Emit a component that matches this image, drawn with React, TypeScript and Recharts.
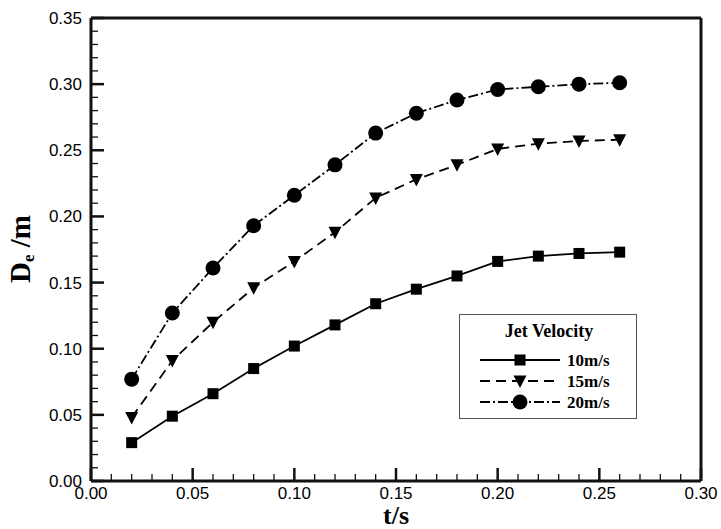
import React from "react";
import { LineChart, Line, XAxis, YAxis, ReferenceLine } from "recharts";

const times = [0.02, 0.04, 0.06, 0.08, 0.1, 0.12, 0.14, 0.16, 0.18, 0.2, 0.22, 0.24, 0.26];
const v10 = [0.029, 0.049, 0.066, 0.085, 0.102, 0.118, 0.134, 0.145, 0.155, 0.166, 0.17, 0.172, 0.173];
const v15 = [0.048, 0.091, 0.12, 0.146, 0.166, 0.188, 0.214, 0.228, 0.239, 0.251, 0.255, 0.257, 0.258];
const v20 = [0.077, 0.127, 0.161, 0.193, 0.216, 0.239, 0.263, 0.278, 0.288, 0.296, 0.298, 0.3, 0.301];

const seriesNames = ["10m/s", "15m/s", "20m/s"];
const legendTitle = "Jet Velocity";

const xMajorTicks = [0, 0.05, 0.1, 0.15, 0.2, 0.25, 0.3];
const yMajorTicks = [0, 0.05, 0.1, 0.15, 0.2, 0.25, 0.3, 0.35];

// major ticks every 0.05, minor every 0.01
const withMinor = (majors: number[]) => {
  const out: number[] = [];
  for (let i = 0; i < majors.length; i++) {
    out.push(majors[i]);
    if (i < majors.length - 1) {
      for (let k = 1; k < 5; k++) out.push(Math.round((majors[i] + k * 0.01) * 100) / 100);
    }
  }
  return out;
};
const xTicks = withMinor(xMajorTicks);
const yTicks = withMinor(yMajorTicks);

const data = times.map((t, i) => ({ t, v10: v10[i], v15: v15[i], v20: v20[i] }));

const isMajor = (v: number) => Math.round(v * 100) % 5 === 0;

const FRAME = "#111111";
const SERIF = "Liberation Serif, Times New Roman, serif";

function XTick(props: any) {
  const { x, y, payload } = props;
  const major = isMajor(payload.value);
  return (
    <g>
      <line x1={x} x2={x} y1={y} y2={y - (major ? 13 : 7)} stroke={FRAME} strokeWidth={major ? 2.5 : 1.3} />
      {major && (
        <text x={x} y={y + 18} textAnchor="middle" fontSize={17} fill="#000">
          {payload.value.toFixed(2)}
        </text>
      )}
    </g>
  );
}

function YTick(props: any) {
  const { x, y, payload } = props;
  const major = isMajor(payload.value);
  return (
    <g>
      <line x1={x} x2={x + (major ? 13 : 7)} y1={y} y2={y} stroke={FRAME} strokeWidth={major ? 2.5 : 1.3} />
      {major && (
        <text x={x - 9} y={y + 6} textAnchor="end" fontSize={17} fill="#000">
          {payload.value.toFixed(2)}
        </text>
      )}
    </g>
  );
}

const SquareDot = (props: any) => {
  const { cx, cy, index } = props;
  return <rect key={`sq-${index}`} x={cx - 5.5} y={cy - 5.5} width={11} height={11} fill="#000" />;
};
const TriDot = (props: any) => {
  const { cx, cy, index } = props;
  return <polygon key={`tr-${index}`} points={`${cx - 6.5},${cy - 5.5} ${cx + 6.5},${cy - 5.5} ${cx},${cy + 7}`} fill="#000" />;
};
const CircleDot = (props: any) => {
  const { cx, cy, index } = props;
  return <circle key={`ci-${index}`} cx={cx} cy={cy} r={7.5} fill="#000" />;
};

const dashes = ["", "10 6", "10 3 2 3"];

function LegendBox() {
  const rows = [46, 67, 88];
  return (
    <svg width={178} height={105} style={{ display: "block" }}>
      <rect x={0.5} y={0.5} width={177} height={104} fill="#fff" stroke="#555" strokeWidth={1} />
      <text x={90} y={23} textAnchor="middle" fontSize={18} fontWeight="bold" fontFamily={SERIF} fill="#000">
        {legendTitle}
      </text>
      {seriesNames.map((name, i) => {
        const cy = rows[i];
        return (
          <g key={name}>
            <line x1={21} x2={101} y1={cy} y2={cy} stroke="#000" strokeWidth={1.8} strokeDasharray={dashes[i] || undefined} />
            {i === 0 && <rect x={55.5} y={cy - 5.5} width={11} height={11} fill="#000" />}
            {i === 1 && <polygon points={`${54.5},${cy - 5.5} ${67.5},${cy - 5.5} ${61},${cy + 7}`} fill="#000" />}
            {i === 2 && <circle cx={61} cy={cy} r={7.5} fill="#000" />}
            <text x={108} y={cy + 6} fontSize={17} fontWeight="bold" fontFamily={SERIF} fill="#000">
              {name}
            </text>
          </g>
        );
      })}
    </svg>
  );
}

const renderXTitle = (props: any) => {
  const vb = props.viewBox;
  return (
    <text x={vb.x + vb.width / 2} y={vb.y + 43} textAnchor="middle" fontSize={26} fontWeight="bold" fontFamily={SERIF} fill="#000">
      t/s
    </text>
  );
};

export default function App() {
  return (
    <div style={{ position: "absolute", left: 0, top: 0, width: 721, height: 529, background: "#fff", fontFamily: "Liberation Sans, Arial, sans-serif" }}>
      <LineChart width={721} height={529} data={data} margin={{ top: 18, right: 20, bottom: 0, left: 0 }}>
        <XAxis
          dataKey="t"
          type="number"
          domain={[0, 0.3]}
          ticks={xTicks}
          interval={0}
          height={48}
          tickSize={0}
          tickMargin={0}
          tickLine={false}
          tick={<XTick />}
          axisLine={{ stroke: FRAME, strokeWidth: 3 }}
          label={renderXTitle}
        />
        <YAxis
          type="number"
          domain={[0, 0.35]}
          ticks={yTicks}
          interval={0}
          width={91}
          tickSize={0}
          tickMargin={0}
          tickLine={false}
          tick={<YTick />}
          axisLine={{ stroke: FRAME, strokeWidth: 3 }}
        />
        {/* top and right frame */}
        <ReferenceLine y={0.35} stroke={FRAME} strokeWidth={3} />
        <ReferenceLine x={0.3} stroke={FRAME} strokeWidth={3} />
        <Line dataKey="v10" name={seriesNames[0]} stroke="#000" strokeWidth={1.8} dot={SquareDot} activeDot={false} isAnimationActive={false} />
        <Line dataKey="v15" name={seriesNames[1]} stroke="#000" strokeWidth={1.8} strokeDasharray={dashes[1]} dot={TriDot} activeDot={false} isAnimationActive={false} />
        <Line dataKey="v20" name={seriesNames[2]} stroke="#000" strokeWidth={1.8} strokeDasharray={dashes[2]} dot={CircleDot} activeDot={false} isAnimationActive={false} />
      </LineChart>
      {/* y axis title */}
      <div
        style={{
          position: "absolute",
          left: -80,
          top: 232,
          width: 200,
          height: 34,
          lineHeight: "34px",
          textAlign: "center",
          transform: "rotate(-90deg)",
          fontFamily: SERIF,
          fontWeight: "bold",
          fontSize: 29,
          color: "#000",
          whiteSpace: "nowrap",
        }}
      >
        D<span style={{ fontSize: 17, position: "relative", top: 4 }}>e</span> /m
      </div>
      <div style={{ position: "absolute", left: 459, top: 314 }}>
        <LegendBox />
      </div>
    </div>
  );
}
